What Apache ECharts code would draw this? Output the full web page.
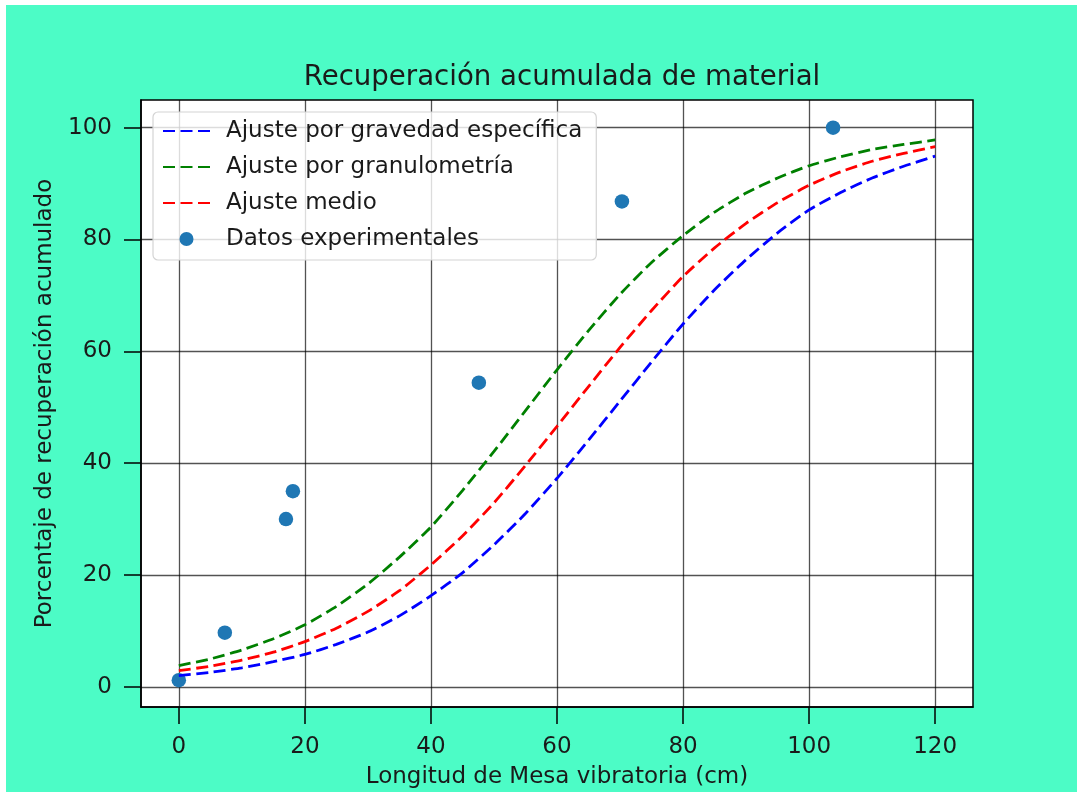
<!DOCTYPE html>
<html>
<head>
<meta charset="utf-8">
<title>Recuperación acumulada de material</title>
<script src="https://cdn.jsdelivr.net/npm/echarts@6/dist/echarts.min.js"></script>
<style>
  html, body { margin: 0; padding: 0; background: #fff; }
  #chart { position: absolute; left: 6px; top: 5px; width: 1071px; height: 787px; }
</style>
</head>
<body>
<div id="chart"></div>
<script>
// longitud de mesa (cm) donde se leyeron las curvas de ajuste
const xFit = [0, 5, 10, 15, 20, 25, 30, 35, 40, 45, 50, 55, 60,
              65, 70, 75, 80, 85, 90, 95, 100, 105, 110, 115, 120];
// Ajuste por gravedad específica (azul)
const ajusteGravedad = [2.0, 2.6, 3.4, 4.5, 5.8, 7.6, 9.8, 12.7, 16.3, 20.4, 25.4, 31.0, 37.3,
                        44.1, 51.1, 58.1, 64.9, 71.0, 76.4, 81.2, 85.3, 88.4, 91.0, 93.1, 94.9];
// Ajuste por granulometría (verde)
const ajusteGranulometria = [3.8, 5.0, 6.6, 8.6, 11.1, 14.4, 18.4, 23.2, 28.6, 35.1, 42.1, 49.4, 56.7,
                             63.7, 70.2, 75.9, 80.7, 84.9, 88.3, 91.0, 93.2, 94.8, 96.1, 97.0, 97.8];
// Ajuste medio (rojo)
const ajusteMedio = [2.9, 3.7, 4.8, 6.2, 8.1, 10.5, 13.5, 17.2, 21.8, 27.0, 32.9, 39.6, 46.6,
                     53.7, 60.7, 67.3, 73.4, 78.5, 82.9, 86.6, 89.7, 92.1, 94.0, 95.4, 96.6];
// Datos experimentales
const xDatos = [0, 7.3, 17.0, 18.1, 47.6, 70.3, 103.8];
const yDatos = [1.2, 9.7, 30.0, 35.0, 54.4, 86.8, 100.0];

const xTicks = [0, 20, 40, 60, 80, 100, 120];
const yTicks = [0, 20, 40, 60, 80, 100];

const FONT = "DejaVu Sans";
const textColor = "#1a1a1a";

function pares(xs, ys) {
  return xs.map((x, i) => [x, ys[i]]);
}

const chart = echarts.init(document.getElementById("chart"));

const lineaAjuste = (name, color, values) => ({
  name: name,
  type: "line",
  data: pares(xFit, values),
  symbol: "none",
  smooth: 0.2,
  z: 3,
  lineStyle: { color: color, width: 2.8, type: [12, 5.5] },
  itemStyle: { color: color },
});

// en la leyenda las curvas solo llevan la línea discontinua, sin punto
const soloLinea = (name) => ({ name: name, itemStyle: { opacity: 0 } });

const option = {
  backgroundColor: "#4cfcc6",
  animation: false,
  textStyle: { fontFamily: FONT },
  title: {
    text: "Recuperación acumulada de material",
    left: 551,
    top: 54,
    textAlign: "center",
    textStyle: { fontFamily: FONT, fontSize: 27.6, fontWeight: "normal", color: textColor },
  },
  grid: {
    left: 135,
    top: 95,
    right: 104,
    bottom: 85,
    outerBoundsMode: "none",
    containLabel: false,
    show: true,
    backgroundColor: "#fff",
    borderColor: "#000",
    borderWidth: 1.5,
  },
  legend: {
    orient: "vertical",
    left: 147,
    top: 107,
    padding: [7, 14, 9, 9],
    itemWidth: 47,
    itemHeight: 14,
    itemGap: 12,
    backgroundColor: "rgba(255,255,255,0.8)",
    borderColor: "#d4d4d4",
    borderWidth: 1.2,
    borderRadius: 5,
    data: [
      soloLinea("Ajuste por gravedad específica"),
      soloLinea("Ajuste por granulometría"),
      soloLinea("Ajuste medio"),
      { name: "Datos experimentales" },
    ],
    textStyle: { fontFamily: FONT, fontSize: 23, lineHeight: 24, color: textColor, padding: [0, 0, 0, 11] },
  },
  xAxis: {
    type: "value",
    min: -6,
    max: 126,
    name: "Longitud de Mesa vibratoria (cm)",
    nameLocation: "middle",
    nameGap: 59,
    nameTextStyle: { fontFamily: FONT, fontSize: 23, color: textColor },
    axisLine: { onZero: false, lineStyle: { color: "#000", width: 1.5 } },
    axisTick: { show: true, inside: false, length: 17, customValues: xTicks, lineStyle: { color: "#000", width: 1.5 } },
    axisLabel: { customValues: xTicks, margin: 29, fontFamily: FONT, fontSize: 23, color: textColor },
    splitLine: { show: true, lineStyle: { color: "rgba(0,0,0,0.68)", width: 1.3 } },
  },
  yAxis: {
    type: "value",
    min: -3.6,
    max: 104.95,
    name: "Porcentaje de recuperación acumulado",
    nameLocation: "middle",
    nameGap: 84,
    nameTextStyle: { fontFamily: FONT, fontSize: 23, color: textColor },
    axisLine: { show: true, onZero: false, lineStyle: { color: "#000", width: 1.5 } },
    axisTick: { show: true, inside: false, length: 17, customValues: yTicks, lineStyle: { color: "#000", width: 1.5 } },
    axisLabel: { customValues: yTicks, margin: 29, fontFamily: FONT, fontSize: 23, color: textColor },
    splitLine: { show: true, lineStyle: { color: "rgba(0,0,0,0.68)", width: 1.3 } },
  },
  series: [
    {
      name: "Datos experimentales",
      type: "scatter",
      data: pares(xDatos, yDatos),
      symbol: "circle",
      symbolSize: 14.5,
      z: 2,
      itemStyle: { color: "#1f77b4", opacity: 1 },
    },
    lineaAjuste("Ajuste por gravedad específica", "#0000ff", ajusteGravedad),
    lineaAjuste("Ajuste por granulometría", "#008000", ajusteGranulometria),
    lineaAjuste("Ajuste medio", "#ff0000", ajusteMedio),
  ],
};

chart.setOption(option);
</script>
</body>
</html>
